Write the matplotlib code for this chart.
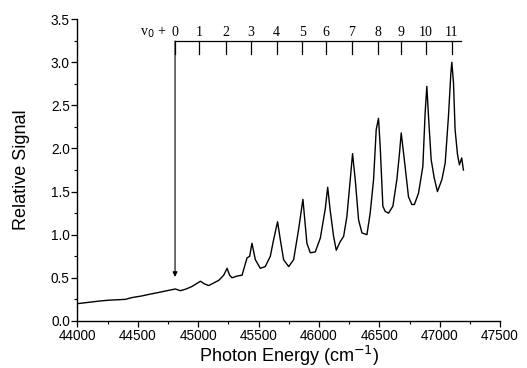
import matplotlib
matplotlib.use("Agg")
import matplotlib.pyplot as plt
from matplotlib.ticker import MultipleLocator, FormatStrFormatter

# ── Spectrum ────────────────────────────────────────────────────────────────
energy = [
    44000, 44060, 44120, 44180, 44259, 44330, 44397, 44450, 44535, 44600,
    44673, 44740, 44811, 44852, 44900, 44949, 45018, 45050, 45087, 45128,
    45170, 45211, 45239, 45260, 45280, 45321, 45363, 45404, 45426, 45445,
    45473, 45514, 45555, 45597, 45624, 45657, 45680, 45707, 45749, 45790,
    45831, 45867, 45900, 45928, 45969, 46011, 46052, 46072, 46093, 46121,
    46143, 46176, 46204, 46231, 46259, 46278, 46300, 46328, 46356, 46397,
    46424, 46452, 46474, 46493, 46507, 46529, 46548, 46576, 46612, 46645,
    46667, 46681, 46714, 46741, 46769, 46790, 46824, 46860, 46879, 46893,
    46907, 46929, 46954, 46981, 47018, 47045, 47072, 47092, 47100, 47114,
    47127, 47147, 47163, 47182, 47196,
]
signal = [
    0.20, 0.21, 0.22, 0.23, 0.24, 0.245, 0.25, 0.27, 0.29, 0.31,
    0.33, 0.35, 0.37, 0.35, 0.37, 0.40, 0.46, 0.43, 0.41, 0.44,
    0.47, 0.53, 0.61, 0.53, 0.50, 0.52, 0.53, 0.73, 0.75, 0.90,
    0.71, 0.61, 0.63, 0.75, 0.94, 1.15, 0.94, 0.71, 0.63, 0.71,
    1.06, 1.41, 0.90, 0.79, 0.80, 0.96, 1.30, 1.55, 1.28, 0.98,
    0.82, 0.92, 0.98, 1.21, 1.64, 1.94, 1.64, 1.17, 1.02, 1.00,
    1.25, 1.64, 2.22, 2.35, 2.02, 1.33, 1.27, 1.25, 1.33, 1.64,
    1.95, 2.18, 1.78, 1.44, 1.35, 1.35, 1.48, 1.79, 2.41, 2.72,
    2.37, 1.87, 1.66, 1.50, 1.64, 1.83, 2.37, 2.87, 3.00, 2.76,
    2.22, 1.93, 1.81, 1.89, 1.75,
]

# ── Vibrational progression ladder ──────────────────────────────────────────
ladder_pos = [44808, 45007, 45230, 45435, 45650, 45862, 46058, 46270,
              46485, 46678, 46885, 47098]
ladder_labels = [str(i) for i in range(12)]
ladder_end = 47180
ladder_y = 3.245
ladder_tick_y = 3.09
arrow_tip_y = 0.51

fig = plt.figure(figsize=(5.27, 3.68), dpi=100)
ax = fig.add_axes([0.147, 0.128, 0.802, 0.820])

ax.plot(energy, signal, color="black", lw=1.0)

# ladder
ax.plot([ladder_pos[0], ladder_end], [ladder_y, ladder_y], color="black", lw=0.9)
for x, lab in zip(ladder_pos, ladder_labels):
    ax.plot([x, x], [ladder_y, ladder_tick_y], color="black", lw=0.9)
    ax.text(x, 3.35, lab, ha="center", va="center", fontsize=10,
            family="Liberation Serif")
ax.text(ladder_pos[0] - 70, 3.35, r"v$_0$ +", ha="right", va="center",
        fontsize=10, family="Liberation Serif")
ax.annotate("", xy=(ladder_pos[0], arrow_tip_y), xytext=(ladder_pos[0], ladder_y),
            arrowprops=dict(arrowstyle="-|>", color="black", lw=0.8,
                            mutation_scale=7, shrinkA=0, shrinkB=0))

ax.set_xlim(44000, 47500)
ax.set_ylim(0, 3.5)
ax.xaxis.set_major_locator(MultipleLocator(500))
ax.xaxis.set_minor_locator(MultipleLocator(250))
ax.yaxis.set_major_locator(MultipleLocator(0.5))
ax.yaxis.set_minor_locator(MultipleLocator(0.25))
ax.yaxis.set_major_formatter(FormatStrFormatter("%.1f"))

for side in ("top", "right"):
    ax.spines[side].set_visible(False)
for side in ("left", "bottom"):
    ax.spines[side].set_linewidth(1.0)

ax.tick_params(which="major", direction="out", length=4, width=0.9,
               labelsize=9.8, pad=1.5)
ax.tick_params(which="minor", direction="out", length=2, width=0.8)
for lab in ax.get_xticklabels() + ax.get_yticklabels():
    lab.set_family("Liberation Sans")

ax.set_xlabel(r"Photon Energy (cm$^{-1}$)", fontsize=13, family="Liberation Sans",
              labelpad=1)
ax.set_ylabel("Relative Signal", fontsize=13, family="Liberation Sans", labelpad=15)

fig.savefig("out.png", dpi=100)
